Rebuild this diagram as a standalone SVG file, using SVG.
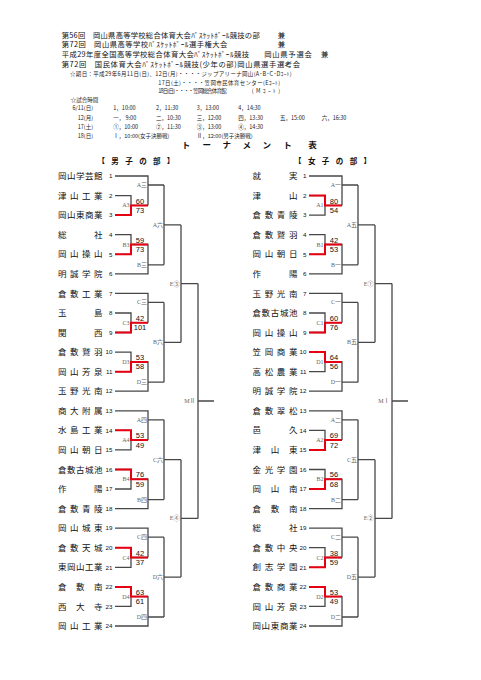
<svg xmlns="http://www.w3.org/2000/svg" xmlns:xlink="http://www.w3.org/1999/xlink" width="481" height="680" viewBox="0 0 481 680">
<style>
.h{font-family:"Noto Sans CJK JP",sans-serif;font-size:7.3px;fill:#111}
.s{font-family:"Noto Sans CJK JP",sans-serif;font-size:5.5px;fill:#222}
.t{font-family:"Noto Sans CJK JP",sans-serif;font-size:8.5px;font-weight:bold;fill:#111;text-anchor:middle}
.nm{font-family:"Noto Sans CJK JP",sans-serif;font-size:8.5px;fill:#111}
.no{font-family:"Liberation Sans",sans-serif;font-size:6.2px;fill:#111;text-anchor:end}
.sc{font-family:"Liberation Sans",sans-serif;font-size:7.5px;fill:#111;text-anchor:middle}
.lb{font-family:"Liberation Serif","Noto Sans CJK JP",serif;font-size:6px;fill:#666;text-anchor:end}
.bk{fill:none;stroke:#474747;stroke-width:1.3}
.rd{fill:none;stroke:#e60012;stroke-width:2}
</style>
<defs>
<path id="br" d="M115 176H148V205.4M115 195.6H131V215.1H115M131 205.4H148M148 185H164M115 234.7H131V254.3H115M131 244.5H148V273.8H115M148 264.8H164M164 185V264.8M164 224.9H181
M115 293.4H148V322.7M115 313H131V332.5H115M131 322.7H148M148 302.4H164M115 352.1H131V371.7H115M131 361.9H148V391.2H115M148 382.2H164M164 302.4V382.2M164 342.3H181
M115 410.8H148V440.1M115 430.3H131V449.9H115M131 440.1H148M148 419.8H164M115 469.5H131V489H115M131 479.2H148V508.6H115M148 499.6H164M164 419.8V499.6M164 459.7H181
M115 528.2H148V557.5M115 547.7H131V567.3H115M131 557.5H148M148 537.2H164M115 586.9H131V606.4H115M131 596.6H148V626H115M148 617H164M164 537.2V617M164 577.1H181
M181 224.9V342.3M181 283.6H198M181 459.7V577.1M181 518.4H198M198 283.6V518.4M198 401H214"/>
</defs>
<rect width="481" height="680" fill="#fff"/>

<g id="header">
<text class="h" x="61.7" y="38" textLength="198" lengthAdjust="spacing">第56回　岡山県高等学校総合体育大会ﾊﾞｽｹｯﾄﾎﾞｰﾙ競技の部</text>
<text class="h" x="277.7" y="38">兼</text>
<text class="h" x="61.7" y="47.3" textLength="165.6" lengthAdjust="spacing">第72回　岡山県高等学校ﾊﾞｽｹｯﾄﾎﾞｰﾙ選手権大会</text>
<text class="h" x="277.7" y="47.3">兼</text>
<text class="h" x="61.7" y="57.3" textLength="187.3" lengthAdjust="spacing">平成29年度全国高等学校総合体育大会ﾊﾞｽｹｯﾄﾎﾞｰﾙ競技</text>
<text class="h" x="264.3" y="57.3" textLength="47.4" lengthAdjust="spacing">岡山県予選会</text>
<text class="h" x="321" y="57.3">兼</text>
<text class="h" x="61.7" y="67" textLength="238.3" lengthAdjust="spacing">第72回　国民体育大会ﾊﾞｽｹｯﾄﾎﾞｰﾙ競技(少年の部)岡山県選手選考会</text>
<text class="s" x="70" y="75.5" textLength="221.7" lengthAdjust="spacing">☆期日：平成29年6月11日(日)、12日(月)・・・・ジップアリーナ岡山(A･B･C･Dｺｰﾄ)</text>
<text class="s" x="158.3" y="84.5" textLength="121.7" lengthAdjust="spacing">17日(土)・・・・笠岡市民体育センター(Eｺｰﾄ)</text>
<text class="s" x="158.3" y="93" textLength="68.4" lengthAdjust="spacing">18日(日)・・・・笠岡総合体育館</text>
<text class="s" x="251.7" y="93" textLength="28.3" lengthAdjust="spacing">(Mｺｰﾄ)</text>
<text class="s" x="70.7" y="101.5">☆試合時間</text>
<text class="s" x="93" y="110.3" text-anchor="end">6/11(日)</text>
<text class="s" x="113.3" y="110.3">1，10:00</text>
<text class="s" x="156" y="110.3">2，11:30</text>
<text class="s" x="196.7" y="110.3">3，13:00</text>
<text class="s" x="238.3" y="110.3">4，14:30</text>
<text class="s" x="93" y="119.7" text-anchor="end">12(月)</text>
<text class="s" x="113.3" y="119.7">一，  9:00</text>
<text class="s" x="156" y="119.7">二，10:30</text>
<text class="s" x="196.7" y="119.7">三，12:00</text>
<text class="s" x="238.3" y="119.7">四，13:30</text>
<text class="s" x="280" y="119.7">五，15:00</text>
<text class="s" x="321.7" y="119.7">六，16:30</text>
<text class="s" x="93" y="128.7" text-anchor="end">17(土)</text>
<text class="s" x="113.3" y="128.7">①，10:00</text>
<text class="s" x="156" y="128.7">②，11:30</text>
<text class="s" x="196.7" y="128.7">③，13:00</text>
<text class="s" x="238.3" y="128.7">④，14:30</text>
<text class="s" x="93" y="137.7" text-anchor="end">18(日)</text>
<text class="s" x="113.3" y="137.7">Ⅰ，10:00(女子決勝戦)</text>
<text class="s" x="196.7" y="137.7">Ⅱ，12:00(男子決勝戦)</text>
<text class="t" x="186 206.7 226.7 246.7 266.7 287.5 312.5" y="148">トーナメント表</text>
<text class="t" style="font-size:7.5px" x="101.2 115 129 143 156.8 170.5" y="163.5">【男子の部】</text>
<text class="t" style="font-size:7.5px" x="297.8 311.7 325.6 339.5 353.4 367.2" y="163.5">【女子の部】</text>
</g>

<g id="connectors">
<use xlink:href="#br" class="bk"/>
<use xlink:href="#br" class="bk" transform="translate(194 0)"/>
<path class="rd" d="M115 215.1H131V205.4H148M115 254.3H131V244.5H148M115 332.5H131V322.7H148M115 371.7H131V361.9H148M115 430.3H131V440.1H148M115 469.5H131V479.2H148M115 547.7H131V557.5H148M115 586.9H131V596.6H148"/>
<path class="rd" d="M309 195.6H325V205.4H342M309 254.3H325V244.5H342M309 332.5H325V322.7H342M309 352.1H325V361.9H342M309 449.9H325V440.1H342M309 489H325V479.2H342M309 567.3H325V557.5H342M309 586.9H325V596.6H342"/>
</g>

<g id="male-teams">
<g id="m01"><text class="nm" x="58 67 76 85 94" y="179.1">岡山学芸館</text><text class="no" x="112.5" y="178.2">1</text></g>
<g id="m02"><text class="nm" x="58 70 82 94" y="198.7">津山工業</text><text class="no" x="112.5" y="197.8">2</text></g>
<g id="m03"><text class="nm" x="58 67 76 85 94" y="218.2">岡山東商業</text><text class="no" x="112.5" y="217.3">3</text></g>
<g id="m04"><text class="nm" x="58 94" y="237.8">総社</text><text class="no" x="112.5" y="236.9">4</text></g>
<g id="m05"><text class="nm" x="58 70 82 94" y="257.4">岡山操山</text><text class="no" x="112.5" y="256.5">5</text></g>
<g id="m06"><text class="nm" x="58 70 82 94" y="276.9">明誠学院</text><text class="no" x="112.5" y="276">6</text></g>
<g id="m07"><text class="nm" x="58 70 82 94" y="296.5">倉敷工業</text><text class="no" x="112.5" y="295.6">7</text></g>
<g id="m08"><text class="nm" x="58 94" y="316.1">玉島</text><text class="no" x="112.5" y="315.2">8</text></g>
<g id="m09"><text class="nm" x="58 94" y="335.6">関西</text><text class="no" x="112.5" y="334.7">9</text></g>
<g id="m10"><text class="nm" x="58 70 82 94" y="355.2">倉敷鷲羽</text><text class="no" x="112.5" y="354.3">10</text></g>
<g id="m11"><text class="nm" x="58 70 82 94" y="374.8">岡山芳泉</text><text class="no" x="112.5" y="373.9">11</text></g>
<g id="m12"><text class="nm" x="58 70 82 94" y="394.3">玉野光南</text><text class="no" x="112.5" y="393.4">12</text></g>
<g id="m13"><text class="nm" x="58 70 82 94" y="413.9">商大附属</text><text class="no" x="112.5" y="413">13</text></g>
<g id="m14"><text class="nm" x="58 70 82 94" y="433.4">水島工業</text><text class="no" x="112.5" y="432.5">14</text></g>
<g id="m15"><text class="nm" x="58 70 82 94" y="453">岡山朝日</text><text class="no" x="112.5" y="452.1">15</text></g>
<g id="m16"><text class="nm" x="58 67 76 85 94" y="472.6">倉敷古城池</text><text class="no" x="112.5" y="471.7">16</text></g>
<g id="m17"><text class="nm" x="58 94" y="492.1">作陽</text><text class="no" x="112.5" y="491.2">17</text></g>
<g id="m18"><text class="nm" x="58 70 82 94" y="511.7">倉敷青陵</text><text class="no" x="112.5" y="510.8">18</text></g>
<g id="m19"><text class="nm" x="58 70 82 94" y="531.3">岡山城東</text><text class="no" x="112.5" y="530.4">19</text></g>
<g id="m20"><text class="nm" x="58 70 82 94" y="550.8">倉敷天城</text><text class="no" x="112.5" y="549.9">20</text></g>
<g id="m21"><text class="nm" x="58 67 76 85 94" y="570.4">東岡山工業</text><text class="no" x="112.5" y="569.5">21</text></g>
<g id="m22"><text class="nm" x="58 76 94" y="590">倉敷南</text><text class="no" x="112.5" y="589.1">22</text></g>
<g id="m23"><text class="nm" x="58 76 94" y="609.5">西大寺</text><text class="no" x="112.5" y="608.6">23</text></g>
<g id="m24"><text class="nm" x="58 70 82 94" y="629.1">岡山工業</text><text class="no" x="112.5" y="628.2">24</text></g>
</g>

<g id="female-teams">
<g id="f01"><text class="nm" x="252.5 289" y="179.1">就実</text><text class="no" x="306.5" y="178.2">1</text></g>
<g id="f02"><text class="nm" x="252.5 289" y="198.7">津山</text><text class="no" x="306.5" y="197.8">2</text></g>
<g id="f03"><text class="nm" x="252.5 264.7 276.8 289" y="218.2">倉敷青陵</text><text class="no" x="306.5" y="217.3">3</text></g>
<g id="f04"><text class="nm" x="252.5 264.7 276.8 289" y="237.8">倉敷鷲羽</text><text class="no" x="306.5" y="236.9">4</text></g>
<g id="f05"><text class="nm" x="252.5 264.7 276.8 289" y="257.4">岡山朝日</text><text class="no" x="306.5" y="256.5">5</text></g>
<g id="f06"><text class="nm" x="252.5 289" y="276.9">作陽</text><text class="no" x="306.5" y="276">6</text></g>
<g id="f07"><text class="nm" x="252.5 264.7 276.8 289" y="296.5">玉野光南</text><text class="no" x="306.5" y="295.6">7</text></g>
<g id="f08"><text class="nm" x="252.5 261.6 270.8 279.9 289" y="316.1">倉敷古城池</text><text class="no" x="306.5" y="315.2">8</text></g>
<g id="f09"><text class="nm" x="252.5 264.7 276.8 289" y="335.6">岡山操山</text><text class="no" x="306.5" y="334.7">9</text></g>
<g id="f10"><text class="nm" x="252.5 264.7 276.8 289" y="355.2">笠岡商業</text><text class="no" x="306.5" y="354.3">10</text></g>
<g id="f11"><text class="nm" x="252.5 264.7 276.8 289" y="374.8">高松農業</text><text class="no" x="306.5" y="373.9">11</text></g>
<g id="f12"><text class="nm" x="252.5 264.7 276.8 289" y="394.3">明誠学院</text><text class="no" x="306.5" y="393.4">12</text></g>
<g id="f13"><text class="nm" x="252.5 264.7 276.8 289" y="413.9">倉敷翠松</text><text class="no" x="306.5" y="413">13</text></g>
<g id="f14"><text class="nm" x="252.5 289" y="433.4">邑久</text><text class="no" x="306.5" y="432.5">14</text></g>
<g id="f15"><text class="nm" x="252.5 270.8 289" y="453">津山東</text><text class="no" x="306.5" y="452.1">15</text></g>
<g id="f16"><text class="nm" x="252.5 264.7 276.8 289" y="472.6">金光学園</text><text class="no" x="306.5" y="471.7">16</text></g>
<g id="f17"><text class="nm" x="252.5 270.8 289" y="492.1">岡山南</text><text class="no" x="306.5" y="491.2">17</text></g>
<g id="f18"><text class="nm" x="252.5 270.8 289" y="511.7">倉敷南</text><text class="no" x="306.5" y="510.8">18</text></g>
<g id="f19"><text class="nm" x="252.5 289" y="531.3">総社</text><text class="no" x="306.5" y="530.4">19</text></g>
<g id="f20"><text class="nm" x="252.5 264.7 276.8 289" y="550.8">倉敷中央</text><text class="no" x="306.5" y="549.9">20</text></g>
<g id="f21"><text class="nm" x="252.5 264.7 276.8 289" y="570.4">創志学園</text><text class="no" x="306.5" y="569.5">21</text></g>
<g id="f22"><text class="nm" x="252.5 264.7 276.8 289" y="590">倉敷商業</text><text class="no" x="306.5" y="589.1">22</text></g>
<g id="f23"><text class="nm" x="252.5 264.7 276.8 289" y="609.5">岡山芳泉</text><text class="no" x="306.5" y="608.6">23</text></g>
<g id="f24"><text class="nm" x="252.5 261.6 270.8 279.9 289" y="629.1">岡山東商業</text><text class="no" x="306.5" y="628.2">24</text></g>
</g>

<g id="male-matches">
<g id="mA3"><text class="lb" x="129.5" y="207.4">A3</text><text class="sc" x="140" y="203.6">60</text><text class="sc" x="140" y="212.9">73</text></g>
<g id="mB3"><text class="lb" x="129.5" y="246.5">B3</text><text class="sc" x="140" y="242.7">59</text><text class="sc" x="140" y="252">73</text></g>
<g id="mC3"><text class="lb" x="129.5" y="324.7">C3</text><text class="sc" x="140" y="320.9">42</text><text class="sc" x="140" y="330.2">101</text></g>
<g id="mD3"><text class="lb" x="129.5" y="363.9">D3</text><text class="sc" x="140" y="360.1">53</text><text class="sc" x="140" y="369.4">58</text></g>
<g id="mA4"><text class="lb" x="129.5" y="442.1">A4</text><text class="sc" x="140" y="438.3">53</text><text class="sc" x="140" y="447.6">49</text></g>
<g id="mB4"><text class="lb" x="129.5" y="481.2">B4</text><text class="sc" x="140" y="477.4">76</text><text class="sc" x="140" y="486.7">59</text></g>
<g id="mC4"><text class="lb" x="129.5" y="559.5">C4</text><text class="sc" x="140" y="555.7">42</text><text class="sc" x="140" y="565">37</text></g>
<g id="mD4"><text class="lb" x="129.5" y="598.6">D4</text><text class="sc" x="140" y="594.8">63</text><text class="sc" x="140" y="604.1">61</text></g>
<text class="lb" x="147" y="187">A三</text>
<text class="lb" x="147" y="266.8">B三</text>
<text class="lb" x="147" y="304.4">C三</text>
<text class="lb" x="147" y="384.2">D三</text>
<text class="lb" x="147" y="421.8">A四</text>
<text class="lb" x="147" y="501.6">B四</text>
<text class="lb" x="147" y="539.2">C四</text>
<text class="lb" x="147" y="619">D四</text>
<text class="lb" x="163" y="226.9">A六</text>
<text class="lb" x="163" y="344.3">B六</text>
<text class="lb" x="163" y="461.7">C六</text>
<text class="lb" x="163" y="579.1">D六</text>
<text class="lb" x="179.5" y="285.6">E③</text>
<text class="lb" x="179.5" y="520.4">E④</text>
<text class="lb" x="195.5" y="403">MⅡ</text>
</g>

<g id="female-matches">
<g id="fA1"><text class="lb" x="323.5" y="207.4">A1</text><text class="sc" x="334" y="203.6">80</text><text class="sc" x="334" y="212.9">54</text></g>
<g id="fB1"><text class="lb" x="323.5" y="246.5">B1</text><text class="sc" x="334" y="242.7">42</text><text class="sc" x="334" y="252">53</text></g>
<g id="fC1"><text class="lb" x="323.5" y="324.7">C1</text><text class="sc" x="334" y="320.9">60</text><text class="sc" x="334" y="330.2">76</text></g>
<g id="fD1"><text class="lb" x="323.5" y="363.9">D1</text><text class="sc" x="334" y="360.1">64</text><text class="sc" x="334" y="369.4">56</text></g>
<g id="fA2"><text class="lb" x="323.5" y="442.1">A2</text><text class="sc" x="334" y="438.3">69</text><text class="sc" x="334" y="447.6">72</text></g>
<g id="fB2"><text class="lb" x="323.5" y="481.2">B2</text><text class="sc" x="334" y="477.4">56</text><text class="sc" x="334" y="486.7">68</text></g>
<g id="fC2"><text class="lb" x="323.5" y="559.5">C2</text><text class="sc" x="334" y="555.7">38</text><text class="sc" x="334" y="565">59</text></g>
<g id="fD2"><text class="lb" x="323.5" y="598.6">D2</text><text class="sc" x="334" y="594.8">53</text><text class="sc" x="334" y="604.1">49</text></g>
<text class="lb" x="341" y="187">A一</text>
<text class="lb" x="341" y="266.8">B一</text>
<text class="lb" x="341" y="304.4">C一</text>
<text class="lb" x="341" y="384.2">D一</text>
<text class="lb" x="341" y="421.8">A二</text>
<text class="lb" x="341" y="501.6">B二</text>
<text class="lb" x="341" y="539.2">C二</text>
<text class="lb" x="341" y="619">D二</text>
<text class="lb" x="357" y="226.9">A五</text>
<text class="lb" x="357" y="344.3">B五</text>
<text class="lb" x="357" y="461.7">C五</text>
<text class="lb" x="357" y="579.1">D五</text>
<text class="lb" x="373.5" y="285.6">E①</text>
<text class="lb" x="373.5" y="520.4">E②</text>
<text class="lb" x="389.5" y="403">MⅠ</text>
</g>
</svg>
